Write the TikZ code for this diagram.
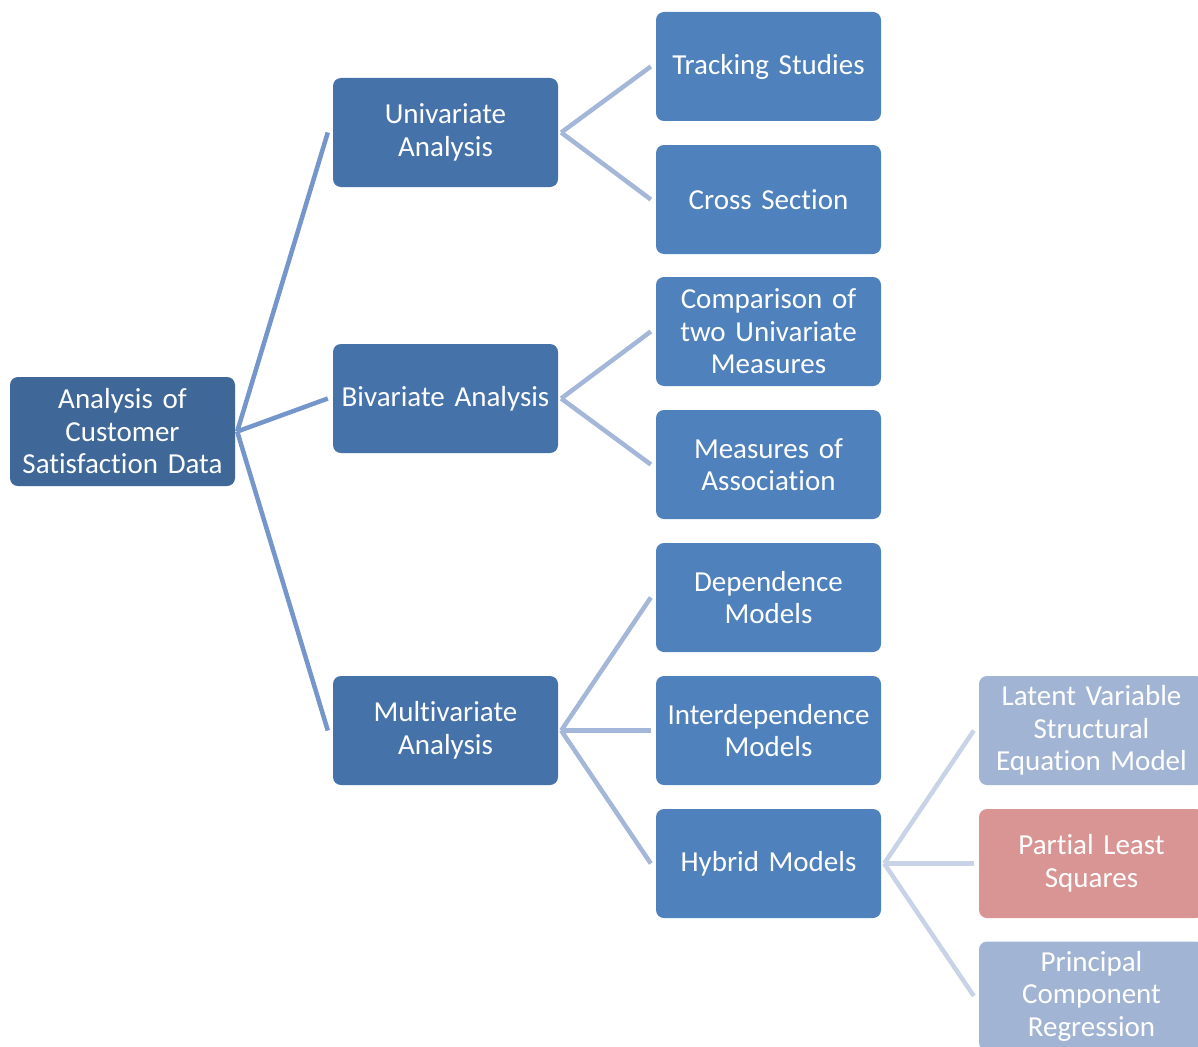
\documentclass[tikz,border=0pt]{standalone}
\usepackage{fontspec}
\setmainfont{Carlito}[Ligatures={NoCommon}]
\usetikzlibrary{calc}
\definecolor{rootfill}{HTML}{3F6797}
\definecolor{lvlafill}{HTML}{4672AA}
\definecolor{lvlbfill}{HTML}{4F81BD}
\definecolor{lvlcfill}{HTML}{A2B4D4}
\definecolor{plsfill}{HTML}{D99594}
\definecolor{linka}{HTML}{7496CA}
\definecolor{linkb}{HTML}{A4B7D9}
\definecolor{linkc}{HTML}{C8D3E7}
\tikzset{
  box/.style={rectangle, rounded corners=8pt, minimum width=225pt, minimum height=109pt,
    text width=222pt, align=center, inner sep=0pt, text=white,
    font=\fontsize{29}{32.5}\selectfont},
  rootbox/.style={box, fill=rootfill},
  abox/.style={box, fill=lvlafill},
  bbox/.style={box, fill=lvlbfill},
  cbox/.style={box, fill=lvlcfill},
  pbox/.style={box, fill=plsfill},
  linkroot/.style={draw=linka, line width=4.5pt},
  linkmid/.style={draw=linkb, line width=4.5pt},
  linkleaf/.style={draw=linkc, line width=4.5pt}
}
\begin{document}
\begin{tikzpicture}[x=1pt, y=-1pt]
\useasboundingbox (0,0) rectangle (1198,1046);
\fill[white] (0,0) rectangle (1198,1046);

% root
\node[rootbox] (root) at (122.5,431.5) {Analysis of\\Customer\\Satisfaction Data};

% first level
\node[abox] (uni)   at (445.5,132.5) {Univariate\\Analysis};
\node[abox] (bi)    at (445.5,398.5) {Bivariate Analysis};
\node[abox] (multi) at (445.5,730.5) {Multivariate\\Analysis};

% second level
\node[bbox] (track) at (768.5,66.5)  {Tracking Studies};
\node[bbox] (cross) at (768.5,199.5) {Cross Section};
\node[bbox] (comp)  at (768.5,331.5) {Comparison of\\two Univariate\\Measures};
\node[bbox] (assoc) at (768.5,464.5) {Measures of\\Association};
\node[bbox] (dep)   at (768.5,597.5) {Dependence\\Models};
\node[bbox] (inter) at (768.5,730.5) {Interdependence\\Models};
\node[bbox] (hyb)   at (768.5,863.5) {Hybrid Models};

% third level
\node[cbox] (lvsem) at (1091.5,730.5) {Latent Variable\\Structural\\Equation Model};
\node[pbox] (pls)   at (1091.5,863.5) {Partial Least\\Squares};
\node[cbox] (pcr)   at (1091.5,996)   {Principal\\Component\\Regression};

% connectors
\foreach \t in {uni,bi,multi}
  \draw[linkroot] ($(root.east)+(2,0)$) -- ($(\t.west)+(-5,0)$);
\foreach \t in {track,cross}
  \draw[linkmid] ($(uni.east)+(3,0)$) -- ($(\t.west)+(-5,0)$);
\foreach \t in {comp,assoc}
  \draw[linkmid] ($(bi.east)+(3,0)$) -- ($(\t.west)+(-5,0)$);
\foreach \t in {dep,inter,hyb}
  \draw[linkmid] ($(multi.east)+(3,0)$) -- ($(\t.west)+(-5,0)$);
\foreach \t in {lvsem,pls,pcr}
  \draw[linkleaf] ($(hyb.east)+(3,0)$) -- ($(\t.west)+(-5,0)$);
\end{tikzpicture}
\end{document}
